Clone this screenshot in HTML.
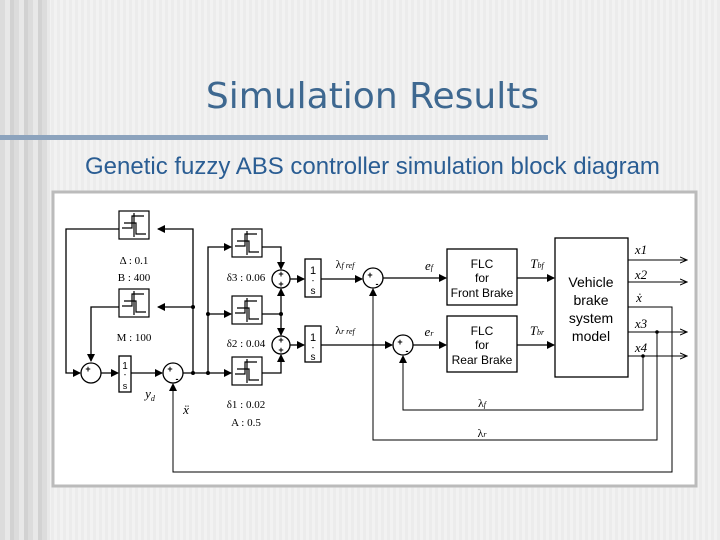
<!DOCTYPE html>
<html><head><style>
html,body{margin:0;padding:0}
body{width:720px;height:540px;overflow:hidden;position:relative;font-family:"Liberation Sans",sans-serif;
background:repeating-linear-gradient(90deg,#f2f2f2 0 3px,#ececec 3px 6px);}
.lb{position:absolute;left:0;top:0;width:50px;height:540px;background:repeating-linear-gradient(90deg,#dcdcdc 0 5px,#e8e8e8 5px 10px,#d2d2d2 10px 14px);}
h1{position:absolute;left:0;width:745px;top:76px;margin:0;text-align:center;font-weight:normal;font-size:36px;color:#3e6890;font-family:"DejaVu Sans","Liberation Sans",sans-serif;}
.bar{position:absolute;left:0;top:135px;width:548px;height:5px;background:#8ca3bd}
.sub{position:absolute;left:85px;top:153px;font-size:24px;color:#2a5d93;white-space:nowrap}
svg{position:absolute;left:0;top:0}
</style></head><body>
<div class="lb"></div>
<h1>Simulation Results</h1>
<div class="bar"></div>
<div class="sub">Genetic fuzzy ABS controller simulation block diagram</div>
<svg width="720" height="540" viewBox="0 0 720 540">
<defs><marker id="a" markerWidth="8" markerHeight="8" refX="7" refY="4" orient="auto" markerUnits="userSpaceOnUse"><path d="M0,0L8,4L0,8z" fill="#000"/></marker>
<marker id="o" markerWidth="8" markerHeight="8" refX="7" refY="4" orient="auto" markerUnits="userSpaceOnUse"><path d="M0,1L7,4L0,7" fill="none" stroke="#000"/></marker>
<g id="hy"><rect x="0" y="0" width="30" height="28" fill="#fff" stroke="#000" stroke-width="1.2"/><path d="M3,17H13V5H25M5,12H17V23H27M15,2V26" fill="none" stroke="#000" stroke-width="1.2"/></g>
</defs>
<rect x="53" y="192" width="643" height="294" fill="#fff" stroke="#bbb" stroke-width="3"/>
<g stroke="#000" stroke-width="1.3" fill="none">
<use href="#hy" x="119" y="211"/><use href="#hy" x="119" y="289"/>
<use href="#hy" x="232" y="229"/><use href="#hy" x="232" y="296"/><use href="#hy" x="232" y="357"/>
<circle cx="91" cy="373" r="10" fill="#fff"/><circle cx="173" cy="373" r="10" fill="#fff"/>
<circle cx="281" cy="279" r="9" fill="#fff"/><circle cx="281" cy="345" r="9" fill="#fff"/>
<circle cx="373" cy="278" r="10" fill="#fff"/><circle cx="403" cy="345" r="10" fill="#fff"/>
<rect x="119" y="356" width="12" height="36" fill="#fff"/>
<rect x="305" y="259" width="16" height="38" fill="#fff"/><rect x="305" y="326" width="16" height="36" fill="#fff"/>
<rect x="447" y="249" width="70" height="56" fill="#fff"/><rect x="447" y="316" width="70" height="56" fill="#fff"/>
<rect x="555" y="238" width="73" height="139" fill="#fff"/>
<path d="M193,373V229H158" marker-end="url(#a)"/>
<path d="M193,307H158" marker-end="url(#a)"/>
<path d="M119,229H66V373H80" marker-end="url(#a)"/>
<path d="M119,307H91V361" marker-end="url(#a)"/>
<path d="M101,373H118" marker-end="url(#a)"/>
<path d="M131,373H162" marker-end="url(#a)"/>
<path d="M183,373H231" marker-end="url(#a)"/>
<path d="M208,373V247H231" marker-end="url(#a)"/>
<path d="M208,314H231" marker-end="url(#a)"/>
<path d="M262,247H281V269" marker-end="url(#a)"/>
<path d="M262,314H281"/><path d="M281,314V289" marker-end="url(#a)"/><path d="M281,314V335" marker-end="url(#a)"/>
<path d="M262,373H281V355" marker-end="url(#a)"/>
<path d="M290,279H304" marker-end="url(#a)"/><path d="M290,345H304" marker-end="url(#a)"/>
<path d="M321,279H362" marker-end="url(#a)"/><path d="M321,345H392" marker-end="url(#a)"/>
<path d="M383,278H446" marker-end="url(#a)"/><path d="M413,345H446" marker-end="url(#a)"/>
<path d="M517,278H554" marker-end="url(#a)"/><path d="M517,345H554" marker-end="url(#a)"/>
<g stroke-width="1"><path d="M628,260H687" marker-end="url(#o)"/><path d="M628,282H687" marker-end="url(#o)"/>
<path d="M628,332H687" marker-end="url(#o)"/><path d="M628,356H687" marker-end="url(#o)"/>
<path d="M628,307H672V472H173V384" marker-end="url(#a)"/>
<path d="M657,332V440H373V289" marker-end="url(#a)"/>
<path d="M643,356V410H403V356" marker-end="url(#a)"/></g>
</g>
<g fill="#000" stroke="none"><circle cx="193" cy="373" r="2"/><circle cx="208" cy="373" r="2"/><circle cx="193" cy="307" r="2"/><circle cx="208" cy="314" r="2"/><circle cx="281" cy="314" r="2"/><circle cx="657" cy="332" r="1.8"/><circle cx="643" cy="356" r="1.8"/></g>
<g font-family="Liberation Serif,serif" font-size="11" text-anchor="middle">
<text x="134" y="264">Δ : 0.1</text><text x="134" y="281">B : 400</text>
<text x="134" y="341">M : 100</text>
<text x="246" y="281">δ3 : 0.06</text><text x="246" y="347">δ2 : 0.04</text>
<text x="246" y="408">δ1 : 0.02</text><text x="246" y="426">A : 0.5</text>
<text x="150" y="398" font-style="italic" font-size="13">y<tspan font-size="8" dy="3">d</tspan></text>
<text x="186" y="414" font-style="italic" font-size="13">ẍ</text>
<text x="345" y="268" font-size="12">λ<tspan font-style="italic" font-size="8">f ref</tspan></text>
<text x="345" y="334" font-size="12">λ<tspan font-style="italic" font-size="8">r ref</tspan></text>
<text x="429" y="270" font-style="italic" font-size="13">e<tspan font-size="8">f</tspan></text>
<text x="429" y="336" font-style="italic" font-size="13">e<tspan font-size="8">r</tspan></text>
<text x="537" y="268" font-style="italic" font-size="13">T<tspan font-size="8">bf</tspan></text>
<text x="537" y="335" font-style="italic" font-size="13">T<tspan font-size="8">br</tspan></text>
<text x="641" y="254" font-style="italic" font-size="13">x1</text><text x="641" y="279" font-style="italic" font-size="13">x2</text>
<text x="639" y="302" font-style="italic" font-size="13">ẋ</text>
<text x="641" y="328" font-style="italic" font-size="13">x3</text><text x="641" y="352" font-style="italic" font-size="13">x4</text>
<text x="482" y="407" font-size="12">λ<tspan font-size="8" font-style="italic">f</tspan></text>
<text x="482" y="437" font-size="12">λ<tspan font-size="8" font-style="italic">r</tspan></text>
</g>
<g font-family="Liberation Sans,sans-serif" text-anchor="middle">
<text x="125" y="369" font-size="10">1</text><text x="125" y="377" font-size="8">-</text><text x="125" y="389" font-size="9">s</text>
<text x="313" y="274" font-size="11">1</text><text x="313" y="283" font-size="8">-</text><text x="313" y="294" font-size="10">s</text>
<text x="313" y="341" font-size="11">1</text><text x="313" y="350" font-size="8">-</text><text x="313" y="360" font-size="10">s</text>
<g font-size="12"><text x="482" y="268">FLC</text><text x="482" y="282">for</text><text x="482" y="297">Front Brake</text>
<text x="482" y="335">FLC</text><text x="482" y="349">for</text><text x="482" y="364">Rear Brake</text></g>
<g font-size="14"><text x="591" y="287">Vehicle</text><text x="591" y="305">brake</text><text x="591" y="323">system</text><text x="591" y="341">model</text></g>
<g font-size="9" font-weight="bold"><text x="88" y="372">+</text><text x="170" y="372">+</text><text x="177" y="382">-</text>
<text x="281" y="277">+</text><text x="281" y="287">+</text><text x="281" y="343">+</text><text x="281" y="353">+</text>
<text x="370" y="278">+</text><text x="377" y="287">-</text><text x="400" y="345">+</text><text x="407" y="354">-</text></g>
</g>
</svg>
</body></html>
